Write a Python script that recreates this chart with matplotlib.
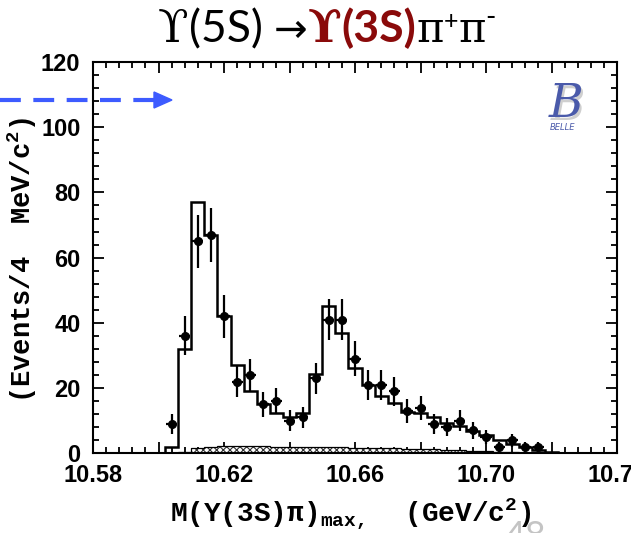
import matplotlib
matplotlib.use('Agg')
import matplotlib.pyplot as plt
import numpy as np
import matplotlib.transforms as mtransforms
from matplotlib.ticker import MultipleLocator, FuncFormatter
from matplotlib.lines import Line2D
from matplotlib.patches import Polygon

# ---------------- data ----------------
pt_x = [10.604, 10.608, 10.612, 10.616, 10.620, 10.624, 10.628, 10.632, 10.636, 10.640,
        10.644, 10.648, 10.652, 10.656, 10.660, 10.664, 10.668, 10.672, 10.676, 10.680,
        10.684, 10.688, 10.692, 10.696, 10.700, 10.704, 10.708, 10.712, 10.716]
pt_y = [9, 36, 65, 67, 42, 22, 24, 15, 16, 10,
        11, 23, 41, 41, 29, 21, 21, 19, 13, 14,
        9, 8, 10, 7, 5, 2, 4, 2, 2]
pt_err = [3.0, 6.0, 8.1, 8.2, 6.5, 4.7, 4.9, 3.9, 4.0, 3.2,
          3.3, 4.8, 6.4, 6.4, 5.4, 4.6, 4.6, 4.4, 3.6, 3.7,
          3.0, 2.8, 3.2, 2.6, 2.2, 1.4, 2.0, 1.4, 1.4]

fit_x = [10.604, 10.608, 10.612, 10.616, 10.620, 10.624, 10.628, 10.632, 10.636, 10.640,
         10.644, 10.648, 10.652, 10.656, 10.660, 10.664, 10.668, 10.672, 10.676, 10.680,
         10.684, 10.688, 10.692, 10.696, 10.700, 10.704, 10.708, 10.712, 10.716, 10.720]
fit_y = [2, 32, 77, 67, 42, 27, 19, 15, 12.5, 11.2,
         12.4, 24.3, 45.3, 37, 26.3, 20.8, 17.7, 15.5, 12.8, 12.4,
         11.2, 9.4, 8.4, 6.9, 5.6, 4.1, 3.0, 2.0, 1.0, 0.5]

bkg_x = [10.608, 10.612, 10.616, 10.620, 10.624, 10.628, 10.632, 10.636, 10.640, 10.644,
         10.648, 10.652, 10.656, 10.660, 10.664, 10.668, 10.672, 10.676, 10.680, 10.684,
         10.688, 10.692, 10.696, 10.700, 10.704, 10.708, 10.712, 10.716]
bkg_y = [0.5, 1.5, 2.0, 2.1, 2.1, 2.1, 2.1, 2.0, 2.0, 2.0,
         1.9, 1.9, 1.8, 1.7, 1.6, 1.6, 1.5, 1.4, 1.3, 1.2,
         1.1, 1.0, 0.8, 0.6, 0.4, 0.3, 0.2, 0.1]

bin_w = 0.004
x_label_ticks = [10.58, 10.62, 10.66, 10.70, 10.74]

# ---------------- style ----------------
plt.rcParams['mathtext.fontset'] = 'custom'
plt.rcParams['mathtext.rm'] = 'Liberation Mono'
plt.rcParams['mathtext.bf'] = 'Liberation Mono:bold'
plt.rcParams['hatch.linewidth'] = 0.8

W, H = 631, 533
fig = plt.figure(figsize=(W / 100, H / 100), dpi=100)
ax = fig.add_axes([93 / W, (H - 453.3) / H, (617 - 93) / W, (453.3 - 62) / H])

def edges_of(c):
    c = np.asarray(c)
    return np.append(c - bin_w / 2, c[-1] + bin_w / 2)

# background (hatched)
ax.stairs(bkg_y, edges_of(bkg_x), fill=True, hatch='xxxxx', facecolor='white',
          edgecolor='#303030', linewidth=0, zorder=2)
ax.stairs(bkg_y, edges_of(bkg_x), color='black', linewidth=0.9, baseline=0, zorder=3)
# fit histogram
ax.stairs(fit_y, edges_of(fit_x), color='black', linewidth=1.8, baseline=0, zorder=4)
# data points
ax.errorbar(pt_x, pt_y, yerr=pt_err, xerr=0.0017, fmt='o', ms=5.5, color='black',
            elinewidth=1.6, capsize=0, zorder=5)

ax.set_xlim(10.58, 10.74)
ax.set_ylim(0, 120)
ax.xaxis.set_major_locator(MultipleLocator(0.02))
ax.xaxis.set_minor_locator(MultipleLocator(0.004))
ax.yaxis.set_major_locator(MultipleLocator(20))
ax.yaxis.set_minor_locator(MultipleLocator(4))

def xfmt(v, pos):
    for t in x_label_ticks:
        if abs(v - t) < 1e-6:
            return f"{t:.2f}"
    return ""
ax.xaxis.set_major_formatter(FuncFormatter(xfmt))
ax.yaxis.set_major_formatter(FuncFormatter(lambda v, p: f"{v:.0f}"))

ax.tick_params(which='both', direction='in', top=True, right=True, width=1.3)
ax.tick_params(which='major', length=8)
ax.tick_params(which='minor', length=4.5)
ax.tick_params(axis='x', which='major', pad=8)
ax.tick_params(axis='y', which='major', pad=9)
for lab in ax.get_xticklabels() + ax.get_yticklabels():
    lab.set_family('Liberation Sans')
    lab.set_fontweight('bold')
    lab.set_fontsize(17)
for s in ax.spines.values():
    s.set_linewidth(1.5)

# axis labels
mono = ['Liberation Mono', 'DejaVu Sans Mono']
fig.text(22 / W, 1 - 260 / H, r'(Events/4  MeV/c$^{\mathbf{2}}$)', rotation=90,
         family=mono, weight='bold', size=19.5, ha='center', va='center')
fig.text(351 / W, 1 - 522 / H, r'M(Y(3S)π)$_{\mathbf{max,}}$  (GeV/c$^{\mathbf{2}}$)',
         family=mono, weight='bold', size=20, ha='center', va='baseline')

# page number (partially cut)
fig.text(505 / W, -14 / H, '48', color='#c4c4c4', size=26, family=['Lato', 'DejaVu Sans'],
         ha='left', va='baseline', zorder=-1)

# title made of pieces
red = '#8a0a0a'
tfam = ['Lato', 'DejaVu Sans']
gfam = ['DejaVu Serif', 'DejaVu Sans']
pieces = [
    ('ϒ', dict(family=gfam, size=32, color='black'), 0),
    ('(5S) ', dict(family=tfam, size=32, color='black'), 0),
    ('→', dict(family=['DejaVu Sans'], size=29, color='black'), 0),
    ('ϒ', dict(family=gfam, size=32, color=red, weight='bold'), 0),
    ('(3S)', dict(family=tfam, size=32, color=red, weight='bold'), 0),
    ('π', dict(family=gfam, size=30, color='black'), 0),
    ('+', dict(family=tfam, size=18, color='black'), 13),
    ('π', dict(family=gfam, size=30, color='black'), 0),
    ('-', dict(family=tfam, size=20, color='black'), 16),
]
renderer = fig.canvas.get_renderer()
x = 158
ybase = H - 42
for s, kw, dy in pieces:
    t = fig.text(x, ybase + dy, s, transform=mtransforms.IdentityTransform(),
                 ha='left', va='baseline', **kw)
    x += t.get_window_extent(renderer).width

# blue dashed arrow
ay = 1 - 100 / H
fig.add_artist(Line2D([0, 156 / W], [ay, ay], transform=fig.transFigure,
                      color='#3d5bff', lw=3, dashes=(5, 3)))
fig.add_artist(Polygon([[154 / W, ay + 8 / H], [172 / W, ay], [154 / W, ay - 8 / H]],
                       closed=True, transform=fig.transFigure, color='#3d5bff'))

# Belle logo
fig.text(566 / W + 0.004, 1 - 117 / H - 0.005, 'B', family='DejaVu Serif', style='italic',
         size=34, color='#cfcfcf', ha='center', va='baseline')
fig.text(566 / W, 1 - 117 / H, 'B', family='DejaVu Serif', style='italic',
         size=34, color='#4a5aaa', ha='center', va='baseline')
fig.text(563 / W, 1 - 130 / H, 'BELLE', family='DejaVu Sans', style='italic',
         size=6, color='#4a5aaa', ha='center', va='baseline')

fig.savefig('out.png', dpi=100)
